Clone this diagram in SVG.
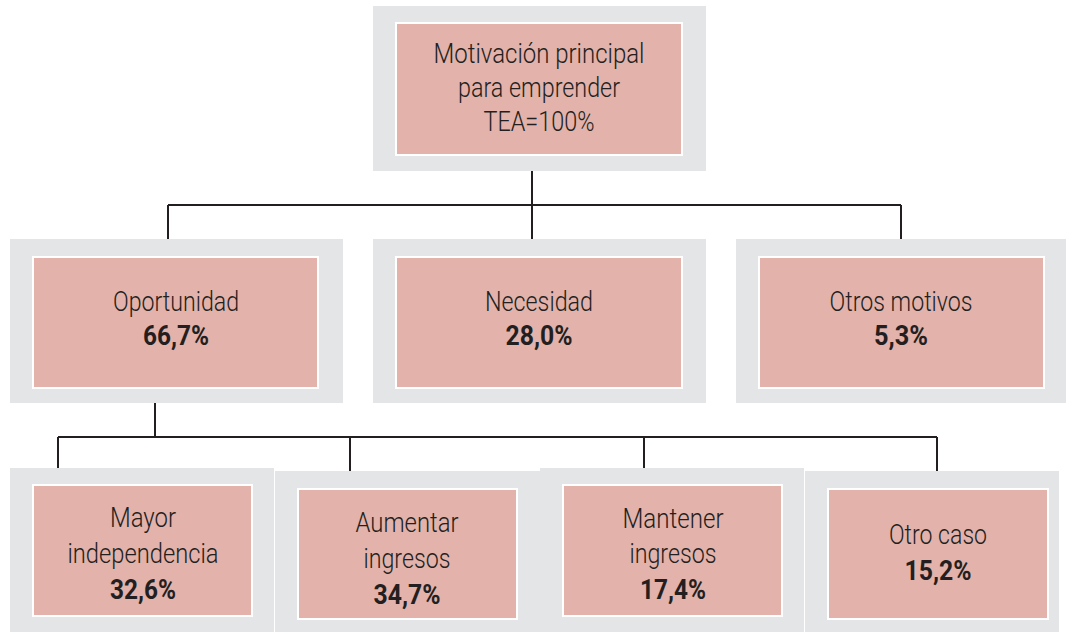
<svg xmlns="http://www.w3.org/2000/svg" width="1067" height="632" viewBox="0 0 1067 632">
<style>
.outer{fill:#e4e5e7}
.inner{fill:#e2b2ab;stroke:#ffffff;stroke-width:2}
.t{font-family:Roboto,"Liberation Sans",Arial,sans-serif;font-weight:300;font-size:28px;fill:#231f20;text-anchor:middle}
.b{font-weight:bold}
.c{fill:none;stroke:#231f20;stroke-width:2}
</style>
<rect width="1067" height="632" fill="#ffffff"/>
<g id="connectors">
<path class="c" d="M532 171V239M168 205H901M168 205V239M901 205V239"/>
<path class="c" d="M155 403V437M58 437H937M58 437V468M350 437V471M644 437V468M937 437V471"/>
</g>
<g id="n-root">
<rect class="outer" x="373" y="6" width="333" height="165"/>
<rect class="inner" x="396" y="23" width="286" height="132"/>
<text class="t" x="539" y="63" textLength="211" lengthAdjust="spacingAndGlyphs">Motivación principal</text>
<text class="t" x="539" y="97" textLength="162" lengthAdjust="spacingAndGlyphs">para emprender</text>
<text class="t" x="539" y="131" textLength="111" lengthAdjust="spacingAndGlyphs">TEA=100%</text>
</g>
<g id="n-oportunidad">
<rect class="outer" x="10" y="239" width="333" height="164"/>
<rect class="inner" x="33" y="257" width="285" height="131"/>
<text class="t" x="176" y="311" textLength="126" lengthAdjust="spacingAndGlyphs">Oportunidad</text>
<text class="t b" x="176" y="345" textLength="66" lengthAdjust="spacingAndGlyphs">66,7%</text>
</g>
<g id="n-necesidad">
<rect class="outer" x="373" y="239" width="333" height="164"/>
<rect class="inner" x="396" y="257" width="286" height="131"/>
<text class="t" x="539" y="311" textLength="108" lengthAdjust="spacingAndGlyphs">Necesidad</text>
<text class="t b" x="539" y="345" textLength="67" lengthAdjust="spacingAndGlyphs">28,0%</text>
</g>
<g id="n-otros">
<rect class="outer" x="736" y="239" width="330" height="164"/>
<rect class="inner" x="759" y="257" width="285" height="131"/>
<text class="t" x="901" y="311" textLength="143" lengthAdjust="spacingAndGlyphs">Otros motivos</text>
<text class="t b" x="901" y="345" textLength="54" lengthAdjust="spacingAndGlyphs">5,3%</text>
</g>
<g id="n-mayor">
<rect class="outer" x="10" y="468" width="264" height="164"/>
<rect class="inner" x="33" y="485" width="219" height="131"/>
<text class="t" x="143" y="527" textLength="66" lengthAdjust="spacingAndGlyphs">Mayor</text>
<text class="t" x="143" y="563" textLength="151" lengthAdjust="spacingAndGlyphs">independencia</text>
<text class="t b" x="143" y="599" textLength="66" lengthAdjust="spacingAndGlyphs">32,6%</text>
</g>
<g id="n-aumentar">
<rect class="outer" x="275" y="471" width="265" height="161"/>
<rect class="inner" x="298" y="489" width="219" height="130"/>
<text class="t" x="407" y="532" textLength="103" lengthAdjust="spacingAndGlyphs">Aumentar</text>
<text class="t" x="407" y="568" textLength="87" lengthAdjust="spacingAndGlyphs">ingresos</text>
<text class="t b" x="407" y="604" textLength="67" lengthAdjust="spacingAndGlyphs">34,7%</text>
</g>
<g id="n-mantener">
<rect class="outer" x="540" y="468" width="264" height="164"/>
<rect class="inner" x="563" y="485" width="219" height="131"/>
<text class="t" x="673" y="528" textLength="101" lengthAdjust="spacingAndGlyphs">Mantener</text>
<text class="t" x="673" y="563" textLength="87" lengthAdjust="spacingAndGlyphs">ingresos</text>
<text class="t b" x="673" y="599" textLength="66" lengthAdjust="spacingAndGlyphs">17,4%</text>
</g>
<g id="n-otrocaso">
<rect class="outer" x="805" y="471" width="254" height="161"/>
<rect class="inner" x="828" y="489" width="220" height="130"/>
<text class="t" x="938" y="544" textLength="98" lengthAdjust="spacingAndGlyphs">Otro caso</text>
<text class="t b" x="938" y="580" textLength="67" lengthAdjust="spacingAndGlyphs">15,2%</text>
</g>
</svg>
